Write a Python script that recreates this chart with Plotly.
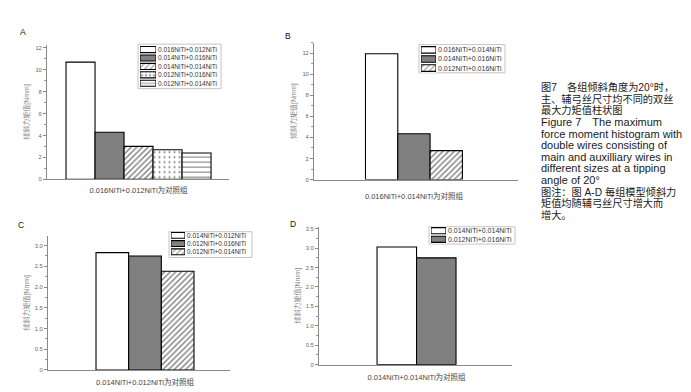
import plotly.graph_objects as go

W, H = 691, 392
OFF = 8  # the page body adds an 8px margin; compensate so positions match the reference
FONT = "Liberation Sans, Arial, Noto Sans CJK SC"

# ---------------- data ----------------
A_group = ["0.016NiTi+0.012NiTi为对照组"]
A_names = ["0.016NiTi+0.012NiTi", "0.014NiTi+0.016NiTi", "0.014NiTi+0.014NiTi",
           "0.012NiTi+0.016NiTi", "0.012NiTi+0.014NiTi"]
A_vals = [10.7, 4.3, 3.0, 2.7, 2.4]

B_group = ["0.016NiTi+0.014NiTi为对照组"]
B_names = ["0.016NiTi+0.014NiTi", "0.014NiTi+0.016NiTi", "0.012NiTi+0.016NiTi"]
B_vals = [11.95, 4.35, 2.75]

C_group = ["0.014NiTi+0.012NiTi为对照组"]
C_names = ["0.014NiTi+0.012NiTi", "0.012NiTi+0.016NiTi", "0.012NiTi+0.014NiTi"]
C_vals = [2.83, 2.75, 2.38]

D_group = ["0.014NiTi+0.014NiTi为对照组"]
D_names = ["0.014NiTi+0.014NiTi", "0.012NiTi+0.016NiTi"]
D_vals = [3.03, 2.75]

AB_ticks = [0, 2, 4, 6, 8, 10, 12]
AB_ticktext = ["0", "2", "4", "6", "8", "10", "12"]
C_ticks = [0, 0.5, 1.0, 1.5, 2.0, 2.5, 3.0]
C_ticktext = ["0", "0.5", "1.0", "1.5", "2.0", "2.5", "3.0"]
D_ticks = [0, 0.5, 1.0, 1.5, 2.0, 2.5, 3.0, 3.5]
D_ticktext = ["0", "0.5", "1.0", "1.5", "2.0", "2.5", "3.0", "3.5"]

Y_TITLE = "倾斜力矩值[Nmm]"

# styles per series: (fill, pattern)
A_style = [("white", ""), ("#808080", ""), ("white", "/"), ("white", "."), ("white", "-")]
B_style = [("white", ""), ("#808080", ""), ("white", "/")]
C_style = [("white", ""), ("#808080", ""), ("white", "/")]
D_style = [("white", ""), ("#808080", "")]

caption = [
    "图7　各组倾斜角度为20°时，",
    "主、辅弓丝尺寸均不同的双丝",
    "最大力矩值柱状图",
    "Figure 7　The maximum",
    "force moment histogram with",
    "double wires consisting of",
    "main and auxilliary wires in",
    "different sizes at a tipping",
    "angle of 20°",
    "图注：图 A-D 每组模型倾斜力",
    "矩值均随辅弓丝尺寸增大而",
    "增大。",
]

# ---------------- layout geometry (reference pixels) ----------------
def fx(x):
    return (x - OFF) / W

def fy(y):
    return 1 - (y - OFF) / H

panels = [
    dict(letter="A", group=A_group, names=A_names, vals=A_vals, style=A_style,
         xd=(47, 229), yd=(44, 180), yr=[0, 12.3], xr=[-0.505, 0.499],
         tv=AB_ticks, tt=AB_ticktext, minor=1, standoff=4,
         lab=(23, 31),
         sw=(140, 156), rows=(44.75, 87.25), box=(138, 43.5, 221, 88.5), lfs=6.5),
    dict(letter="B", group=B_group, names=B_names, vals=B_vals, style=B_style,
         xd=(314, 518), yd=(42, 180.3), yr=[0, 13], xr=[-0.825, 0.859],
         tv=AB_ticks, tt=AB_ticktext, minor=1, standoff=9,
         lab=(288, 35),
         sw=(421, 436), rows=(44.7, 72.3), box=(419, 44, 505, 72.5), lfs=7),
    dict(letter="C", group=C_group, names=C_names, vals=C_vals, style=C_style,
         xd=(48, 230), yd=(237, 372.7), yr=[0, 3.24], xr=[-0.792, 0.694],
         tv=C_ticks, tt=C_ticktext, minor=0.25, standoff=5,
         lab=(21, 226),
         sw=(171, 185), rows=(232.5, 257.5), box=(169, 233, 252, 259), lfs=6.5),
    dict(letter="D", group=D_group, names=D_names, vals=D_vals, style=D_style,
         xd=(319, 512), yd=(228, 367.3), yr=[0, 3.55], xr=[-0.988, 0.967],
         tv=D_ticks, tt=D_ticktext, minor=0.25, standoff=5,
         lab=(293, 225),
         sw=(431, 446), rows=(227.7, 245), box=(429, 228, 515, 245.5), lfs=7),
]

fig = go.Figure()
layout = dict(
    width=W, height=H, margin=dict(l=0, r=0, t=0, b=0),
    paper_bgcolor="white", plot_bgcolor="white",
    barmode="group", bargap=0.2, bargroupgap=0,
    showlegend=False, font=dict(family=FONT, color="#333"),
)
annotations = []
shapes = []


def pat(shape, size):
    if shape == "":
        return dict(shape="")
    sol = {"/": 0.36, ".": 0.14, "-": 0.22}[shape]
    return dict(shape=shape, fgcolor="black", bgcolor="white", size=size, solidity=sol)


for i, p in enumerate(panels):
    k = i + 1
    xa, ya = f"x{k}", f"y{k}"
    for name, v, (fill, shp) in zip(p["names"], p["vals"], p["style"]):
        fig.add_trace(go.Bar(
            x=p["group"], y=[v], name=name, xaxis=xa, yaxis=ya,
            marker=dict(color=fill, line=dict(color="black", width=1.1),
                        pattern=pat(shp, 4 if shp == "/" else 5)),
        ))
    layout[f"xaxis{k}"] = dict(
        domain=[fx(p["xd"][0]), fx(p["xd"][1])], anchor=ya, type="category",
        range=p["xr"], showline=True, linecolor="#8a8a8a", linewidth=1,
        ticks="", showgrid=False, zeroline=False,
        tickfont=dict(size=7.5, color="#444"), ticklabelstandoff=p["standoff"],
    )
    layout[f"yaxis{k}"] = dict(
        domain=[fy(p["yd"][1]), fy(p["yd"][0])], anchor=xa, range=p["yr"],
        showline=True, linecolor="#8a8a8a", linewidth=1, showgrid=False, zeroline=False,
        ticks="outside", ticklen=3, tickcolor="#8a8a8a", tickwidth=1,
        tickvals=p["tv"], ticktext=p["tt"], tickfont=dict(size=5.8, color="#666"),
        minor=dict(dtick=p["minor"], ticks="outside", ticklen=2, tickcolor="#9a9a9a"),
        title=dict(text=Y_TITLE, font=dict(size=7, color="#888"), standoff=4),
    )
    # legend built from small horizontal bars on their own axes
    kl = k + 4
    lx, ly = f"x{kl}", f"y{kl}"
    fills = [s[0] for s in p["style"]]
    shp = [s[1] for s in p["style"]]
    fig.add_trace(go.Bar(
        y=p["names"], x=[1] * len(p["names"]), orientation="h", width=0.72,
        xaxis=lx, yaxis=ly,
        marker=dict(color=fills, line=dict(color="black", width=1.1),
                    pattern=dict(shape=shp, fgcolor="black", bgcolor=["white"] * len(shp),
                                 size=4, solidity=0.3)),
        hoverinfo="skip",
    ))
    layout[f"xaxis{kl}"] = dict(
        domain=[fx(p["sw"][0]), fx(p["sw"][1])], anchor=ly, range=[0, 1],
        visible=False, fixedrange=True,
    )
    layout[f"yaxis{kl}"] = dict(
        domain=[fy(p["rows"][1]), fy(p["rows"][0])], anchor=lx, type="category",
        autorange="reversed", side="right", showline=False, showgrid=False,
        zeroline=False, ticks="", ticklabelstandoff=1,
        tickfont=dict(size=p["lfs"], color="#333"), fixedrange=True,
    )
    x0, y0, x1, y1 = p["box"]
    shapes.append(dict(type="rect", xref="paper", yref="paper",
                       x0=fx(x0), x1=fx(x1), y0=fy(y1), y1=fy(y0),
                       line=dict(color="#c4c4c4", width=1), fillcolor="rgba(0,0,0,0)",
                       layer="below"))
    annotations.append(dict(text=p["letter"], x=fx(p["lab"][0]), y=fy(p["lab"][1]),
                            xref="paper", yref="paper", showarrow=False,
                            xanchor="center", yanchor="middle",
                            font=dict(size=8.5, color="#111")))


def has_cjk(s):
    return any("\u4e00" <= ch <= "\u9fff" for ch in s)


# caption text on the right
for j, line in enumerate(caption):
    annotations.append(dict(text=line, x=fx(539), y=fy(87 + 11.72 * j),
                            xref="paper", yref="paper", showarrow=False,
                            xanchor="left", yanchor="middle",
                            font=dict(size=10.2 if has_cjk(line) else 11,
                                      color="#1a1a1a")))

layout["annotations"] = annotations
layout["shapes"] = shapes
fig.update_layout(**layout)
fig.write_html("out.html")
